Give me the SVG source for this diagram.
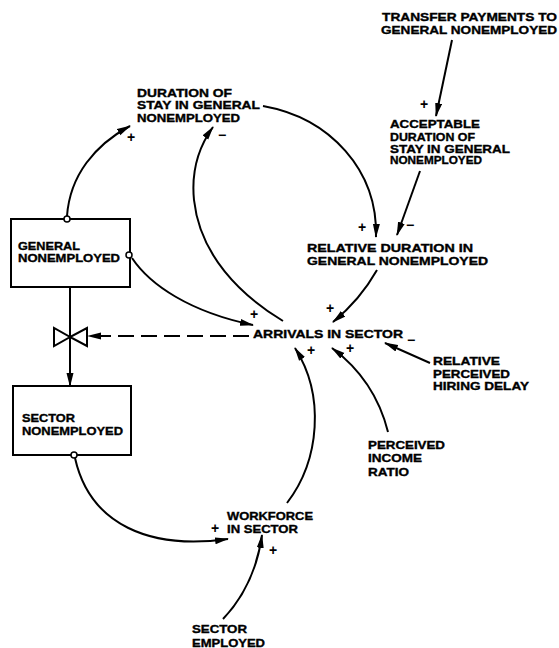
<svg xmlns="http://www.w3.org/2000/svg" width="559" height="648" viewBox="0 0 559 648">
<style>
.t{font-family:"Liberation Sans",Arial,sans-serif;font-weight:bold;font-size:11px;fill:#000;stroke:#000;stroke-width:0.35}
.sg{font-family:"Liberation Sans",Arial,sans-serif;font-weight:bold;font-size:14px;fill:#000;text-anchor:middle}
.c{fill:none;stroke:#000;stroke-width:2}
.d{fill:none;stroke:#000;stroke-width:2;stroke-dasharray:16 7}
.box{fill:#fff;stroke:#000;stroke-width:2}
.o{fill:#fff;stroke:#000;stroke-width:1.5}
</style>
<defs>
<marker id="ah" viewBox="0 0 14 8" refX="13" refY="4" markerWidth="14" markerHeight="8" markerUnits="userSpaceOnUse" orient="auto">
<path d="M0,0.5 L14,4 L0,7.5 z" fill="#000"/>
</marker>
</defs>
<rect width="559" height="648" fill="#fff"/>

<g id="connectors">
<path class="c" d="M67,216 C70,175 95,145 130,126" marker-end="url(#ah)"/>
<path class="c" d="M283,321 C240,295 200,255 194,200 C191,170 200,145 213,127" marker-end="url(#ah)"/>
<path class="c" d="M263,106 C330,118 378,170 376,237" marker-end="url(#ah)"/>
<path class="c" d="M452,40 L436,116" marker-end="url(#ah)"/>
<path class="c" d="M420,171 L397,235" marker-end="url(#ah)"/>
<path class="c" d="M377,270 Q360,300 333,322" marker-end="url(#ah)"/>
<path class="c" d="M132,258 C150,285 190,312 253,325" marker-end="url(#ah)"/>
<path class="d" d="M249,336 L88,336" marker-end="url(#ah)"/>
<path class="c" d="M70,287 L70,386" marker-end="url(#ah)"/>
<path class="c" d="M75,458 C90,525 150,550 228,539" marker-end="url(#ah)"/>
<path class="c" d="M223,619 Q255,585 262,535" marker-end="url(#ah)"/>
<path class="c" d="M287,503 C320,460 325,395 295,348" marker-end="url(#ah)"/>
<path class="c" d="M388,432 Q375,380 332,348" marker-end="url(#ah)"/>
<path class="c" d="M430,363 L385,343" marker-end="url(#ah)"/>
</g>

<g id="valve">
<polygon points="54,328 54,346 70,337" fill="#fff" stroke="#000" stroke-width="2"/>
<polygon points="87,328 87,346 70,337" fill="#fff" stroke="#000" stroke-width="2"/>
</g>

<g id="general-nonemployed">
<rect class="box" x="11" y="219" width="119" height="68"/>
<text class="t" x="18" y="249.5" textLength="62" lengthAdjust="spacingAndGlyphs">GENERAL</text>
<text class="t" x="18" y="262" textLength="102" lengthAdjust="spacingAndGlyphs">NONEMPLOYED</text>
<circle class="o" cx="67" cy="219" r="3"/>
<circle class="o" cx="129" cy="255" r="3"/>
</g>

<g id="sector-nonemployed">
<rect class="box" x="13" y="386" width="118" height="69"/>
<text class="t" x="22" y="421.5" textLength="53" lengthAdjust="spacingAndGlyphs">SECTOR</text>
<text class="t" x="22" y="435" textLength="101" lengthAdjust="spacingAndGlyphs">NONEMPLOYED</text>
<circle class="o" cx="74" cy="455" r="3"/>
</g>

<g id="duration-of-stay">
<text class="t" x="137" y="96.5" textLength="95" lengthAdjust="spacingAndGlyphs">DURATION OF</text>
<text class="t" x="137" y="109" textLength="123" lengthAdjust="spacingAndGlyphs">STAY IN GENERAL</text>
<text class="t" x="137" y="121.5" textLength="103" lengthAdjust="spacingAndGlyphs">NONEMPLOYED</text>
</g>

<g id="transfer-payments">
<text class="t" x="382" y="21" textLength="175" lengthAdjust="spacingAndGlyphs">TRANSFER PAYMENTS TO</text>
<text class="t" x="381" y="34" textLength="176" lengthAdjust="spacingAndGlyphs">GENERAL NONEMPLOYED</text>
</g>

<g id="acceptable-duration">
<text class="t" x="390" y="128.3" textLength="90" lengthAdjust="spacingAndGlyphs">ACCEPTABLE</text>
<text class="t" x="390" y="140.7" textLength="85" lengthAdjust="spacingAndGlyphs">DURATION OF</text>
<text class="t" x="390" y="152.5" textLength="120" lengthAdjust="spacingAndGlyphs">STAY IN GENERAL</text>
<text class="t" x="390" y="164.3" textLength="92" lengthAdjust="spacingAndGlyphs">NONEMPLOYED</text>
</g>

<g id="relative-duration">
<text class="t" x="307" y="252" textLength="166" lengthAdjust="spacingAndGlyphs">RELATIVE DURATION IN</text>
<text class="t" x="307" y="264.5" textLength="181" lengthAdjust="spacingAndGlyphs">GENERAL NONEMPLOYED</text>
</g>

<g id="arrivals-in-sector">
<text class="t" x="253" y="338" textLength="150" lengthAdjust="spacingAndGlyphs">ARRIVALS IN SECTOR</text>
</g>

<g id="relative-perceived-hiring-delay">
<text class="t" x="433" y="365" textLength="67" lengthAdjust="spacingAndGlyphs">RELATIVE</text>
<text class="t" x="433" y="377.5" textLength="77" lengthAdjust="spacingAndGlyphs">PERCEIVED</text>
<text class="t" x="433" y="390" textLength="96" lengthAdjust="spacingAndGlyphs">HIRING DELAY</text>
</g>

<g id="perceived-income-ratio">
<text class="t" x="368" y="449" textLength="77" lengthAdjust="spacingAndGlyphs">PERCEIVED</text>
<text class="t" x="368" y="462" textLength="54" lengthAdjust="spacingAndGlyphs">INCOME</text>
<text class="t" x="368" y="476" textLength="41" lengthAdjust="spacingAndGlyphs">RATIO</text>
</g>

<g id="workforce-in-sector">
<text class="t" x="227" y="520" textLength="86" lengthAdjust="spacingAndGlyphs">WORKFORCE</text>
<text class="t" x="227" y="533" textLength="71" lengthAdjust="spacingAndGlyphs">IN SECTOR</text>
</g>

<g id="sector-employed">
<text class="t" x="192" y="633" textLength="55" lengthAdjust="spacingAndGlyphs">SECTOR</text>
<text class="t" x="192" y="646.5" textLength="73" lengthAdjust="spacingAndGlyphs">EMPLOYED</text>
</g>

<g id="polarities">
<text class="sg" x="131" y="142">+</text>
<text class="sg" x="222" y="140">−</text>
<text class="sg" x="424" y="109">+</text>
<text class="sg" x="362" y="232">+</text>
<text class="sg" x="410" y="230">−</text>
<text class="sg" x="330" y="313">+</text>
<text class="sg" x="254" y="319">+</text>
<text class="sg" x="311" y="355">+</text>
<text class="sg" x="350" y="353">+</text>
<text class="sg" x="411" y="345">−</text>
<text class="sg" x="215" y="533">+</text>
<text class="sg" x="273" y="555">+</text>
</g>
</svg>
